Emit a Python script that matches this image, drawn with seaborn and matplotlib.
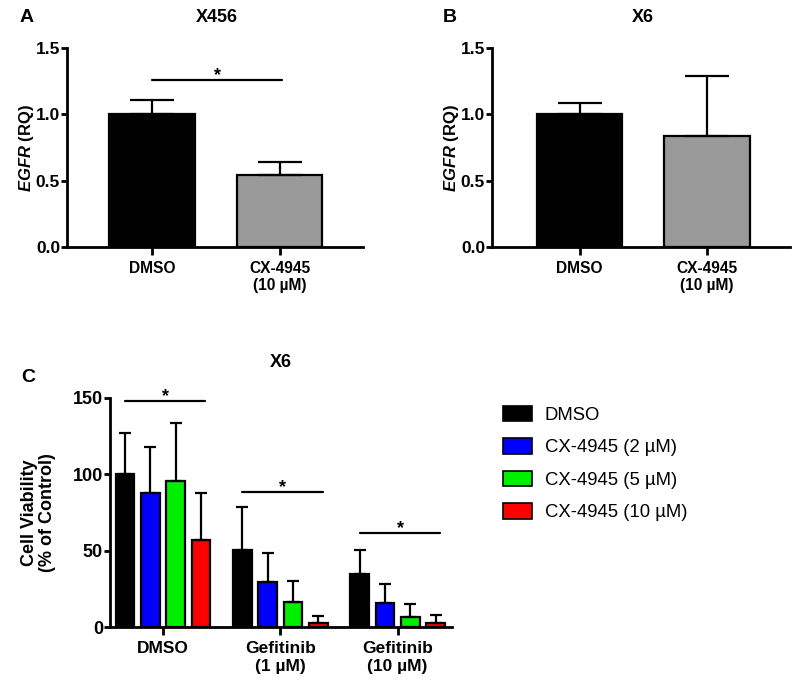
import numpy as np
import pandas as pd
import matplotlib
matplotlib.use("Agg")
import matplotlib.pyplot as plt
import seaborn as sns
from matplotlib.patches import Patch

sns.set_style("white")
plt.rcParams['font.family'] = ['Liberation Sans', 'DejaVu Sans']
plt.rcParams['font.weight'] = 'bold'
plt.rcParams['text.color'] = 'black'
plt.rcParams['axes.labelcolor'] = 'black'
plt.rcParams['xtick.color'] = 'black'
plt.rcParams['ytick.color'] = 'black'
plt.rcParams['mathtext.fontset'] = 'custom'
plt.rcParams['mathtext.it'] = 'Liberation Sans:italic:bold'
plt.rcParams['mathtext.rm'] = 'Liberation Sans:bold'

# ---------------- data ----------------
ab_conditions = ["DMSO", "CX-4945\n(10 µM)"]
a_title = "X456"
a_means = [1.00, 0.54]
a_err = [0.11, 0.10]
b_title = "X6"
b_means = [1.00, 0.84]
b_err = [0.085, 0.45]
ab_yticks = [0.0, 0.5, 1.0, 1.5]

c_title = "X6"
c_groups = ["DMSO", "Gefitinib\n(1 µM)", "Gefitinib\n(10 µM)"]
c_treatments = ["DMSO", "CX-4945 (2 µM)", "CX-4945 (5 µM)", "CX-4945 (10 µM)"]
c_means = [
    [100.0, 87.5, 95.8, 56.8],
    [50.7, 29.8, 16.5, 3.0],
    [34.6, 15.9, 6.7, 3.0],
]
c_err = [
    [26.7, 30.1, 37.9, 31.1],
    [27.7, 18.5, 13.5, 4.6],
    [16.1, 12.6, 8.7, 4.8],
]
c_yticks = [0, 50, 100, 150]
c_sig = [147.6, 88.6, 61.4]

ab_colors = ["#000000", "#999999"]
c_colors = ["#000000", "#0000ff", "#00ee00", "#ff0000"]

LW = 1.6

fig = plt.figure(figsize=(8.0, 6.92), dpi=100)


def style_axes(ax, ysize, xsize):
    for s in ["top", "right"]:
        ax.spines[s].set_visible(False)
    for s in ["left", "bottom"]:
        ax.spines[s].set_linewidth(2.0)
        ax.spines[s].set_color("black")
    ax.tick_params(axis="y", direction="out", length=4, width=2.0, labelsize=ysize, pad=1, left=True)
    ax.tick_params(axis="x", direction="out", length=6, width=2.0, labelsize=xsize, pad=4, bottom=True)
    for lab in ax.get_xticklabels() + ax.get_yticklabels():
        lab.set_fontweight("bold")


def draw_ab(rect, title, means, errs, letter, letter_x, title_x):
    ax = fig.add_axes(rect)
    df = pd.DataFrame({"cond": ab_conditions, "val": means})
    sns.barplot(data=df, x="cond", y="val", hue="cond", palette=ab_colors,
                edgecolor="black", linewidth=LW, width=0.67, errorbar=None,
                saturation=1, legend=False, ax=ax)
    xs = [p.get_x() + p.get_width() / 2 for p in ax.patches]
    ax.errorbar(xs, means, yerr=[np.zeros(len(errs)), errs], fmt="none",
                ecolor="black", elinewidth=LW, capsize=15.5, capthick=LW, zorder=1)
    ax.set_ylim(0, 1.5)
    ax.set_yticks(ab_yticks)
    ax.set_yticklabels([f"{v:.1f}" for v in ab_yticks])
    ax.set_xlabel("")
    ax.set_ylabel(r"$\it{EGFR}$ (RQ)", fontsize=12, fontweight="bold", labelpad=-0.5)
    style_axes(ax, 12.5, 11.2)
    fig.text(letter_x, 1 - 18 / 692, letter, fontsize=14, fontweight="bold", ha="center", va="center")
    fig.text(title_x, 1 - 18 / 692, title, fontsize=13, fontweight="bold", ha="center", va="center")
    return ax


bot = 1 - 247 / 692
top = 1 - 48 / 692
axA = draw_ab([67 / 800, bot, (363 - 67) / 800, top - bot], a_title, a_means, a_err, "A", 27 / 800, 217 / 800)
axA.set_xlim(-0.667, 1.655)
axA.plot([0, 1.02], [1.26, 1.26], color="black", lw=LW)
axA.text(0.51, 1.26, "*", ha="center", va="baseline", fontsize=13, fontweight="bold")

axB = draw_ab([492 / 800, bot, (790 - 492) / 800, top - bot], b_title, b_means, b_err, "B", 450 / 800, 643 / 800)
axB.set_xlim(-0.689, 1.652)

# ---------------- panel C ----------------
rows = []
for gi, g in enumerate(c_groups):
    for ti, t in enumerate(c_treatments):
        rows.append({"group": g, "treat": t, "val": c_means[gi][ti]})
dfc = pd.DataFrame(rows)

cb = 1 - 627.3 / 692
ct = 1 - 397.7 / 692
axC = fig.add_axes([110 / 800, cb, (452 - 110) / 800, ct - cb])
sns.barplot(data=dfc, x="group", y="val", hue="treat", hue_order=c_treatments,
            order=c_groups, palette=c_colors, edgecolor="black", linewidth=LW,
            width=0.863, gap=0.27, errorbar=None, saturation=1, legend=False, ax=axC)
for ti, t in enumerate(c_treatments):
    cont = axC.containers[ti]
    xs = [p.get_x() + p.get_width() / 2 for p in cont.patches]
    means = [c_means[gi][ti] for gi in range(len(c_groups))]
    errs = [c_err[gi][ti] for gi in range(len(c_groups))]
    axC.errorbar(xs, means, yerr=[np.zeros(len(errs)), errs], fmt="none",
                 ecolor="black", elinewidth=LW, capsize=4, capthick=LW, zorder=1)
axC.set_ylim(0, 150)
axC.set_xlim(-0.452, 2.463)
axC.set_yticks(c_yticks)
axC.set_xlabel("")
axC.set_ylabel("Cell Viability\n(% of Control)", fontsize=13, fontweight="bold",
               labelpad=12, linespacing=1.1)
style_axes(axC, 13, 12.5)
for gi, y in enumerate(c_sig):
    axC.plot([gi - 0.325, gi + 0.36], [y, y], color="black", lw=LW)
    axC.text(gi + 0.02, y, "*", ha="center", va="baseline", fontsize=13, fontweight="bold")

fig.text(28 / 800, 1 - 378 / 692, "C", fontsize=14, fontweight="bold", ha="center", va="center")
fig.text(281 / 800, 1 - 363 / 692, c_title, fontsize=13, fontweight="bold", ha="center", va="center")

handles = [Patch(facecolor=c, edgecolor="black", linewidth=1.2) for c in c_colors]
fig.legend(handles, c_treatments, loc="upper left", bbox_to_anchor=(0.629, 1 - 406 / 692),
           frameon=False, prop={"size": 13.3, "weight": "normal"},
           handlelength=1.55, handleheight=0.9, labelspacing=0.78, handletextpad=0.7,
           borderpad=0, borderaxespad=0)

fig.savefig("out.png", dpi=100)
